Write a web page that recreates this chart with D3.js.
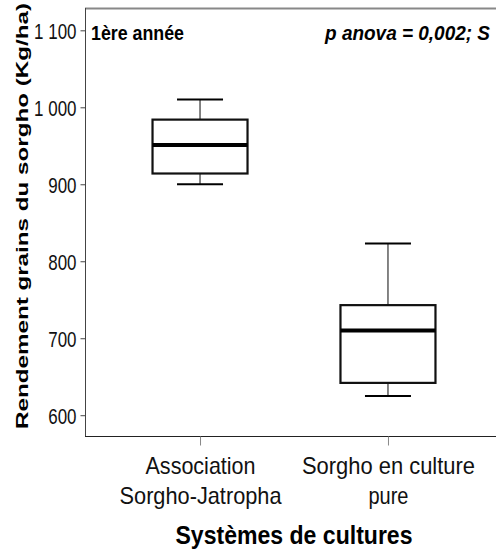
<!DOCTYPE html>
<html><head><meta charset="utf-8">
<script src="https://cdn.jsdelivr.net/npm/d3@7"></script>
<style>body{margin:0;background:#fff}svg{display:block}</style>
</head><body>
<script>
const categories = ["Association|Sorgho-Jatropha", "Sorgho en culture|pure"];
const whiskerLow = [900, 625];
const q1 = [914, 642];
const median = [951, 710];
const q3 = [984, 743];
const whiskerHigh = [1010, 823];
const yTicks = [600, 700, 800, 900, 1000, 1100];

const W = 496, H = 550;
const svg = d3.select("body").append("svg").attr("width", W).attr("height", H);
const font = "'Liberation Sans',Arial,sans-serif";

function squeeze(sel, factor) {
  sel.each(function() {
    const n = this.getComputedTextLength();
    d3.select(this).attr("textLength", n * factor).attr("lengthAdjust", "spacingAndGlyphs");
  });
}
function fit(sel, len) {
  sel.attr("textLength", len).attr("lengthAdjust", "spacingAndGlyphs");
}

const x = d3.scalePoint().domain(categories).range([85, 503]).padding(0.612);
const y = d3.scaleLinear().domain([573, 1129]).range([436, 8]);

const fmt = d => d >= 1000 ? d3.format(",")(d).replace(",", " ") : String(d);

// top border
svg.append("line").attr("x1", 85).attr("x2", W).attr("y1", 8.5).attr("y2", 8.5)
  .attr("stroke", "#888").attr("stroke-width", 2);

// y axis
const ya = svg.append("g").attr("transform", "translate(85.5,0)")
  .call(d3.axisLeft(y).tickValues(yTicks).tickSize(5).tickFormat(fmt));
ya.select(".domain").attr("stroke", "#444").attr("d", `M0,${y.range()[1]}V${y.range()[0]}`);
ya.selectAll(".tick line").attr("stroke", "#444");
const tt = ya.selectAll(".tick text").attr("font-family", font).attr("font-size", 22)
  .attr("fill", "#111").attr("x", -9).attr("dy", "0.36em");
squeeze(tt, 0.77);

// x axis
const xa = svg.append("g").attr("transform", "translate(0,436.5)")
  .call(d3.axisBottom(x).tickSize(9).tickFormat(""));
xa.select(".domain").attr("stroke", "#222").attr("d", `M85,0H${W}`);
xa.selectAll(".tick line").attr("stroke", "#888");
const labelWidths = {"Association": 110, "Sorgho-Jatropha": 162, "Sorgho en culture": 173, "pure": 40};
xa.selectAll(".tick").each(function(d) {
  const parts = d.split("|");
  const t = d3.select(this).append("text").attr("font-family", font)
    .attr("font-size", 24).attr("fill", "#111").attr("text-anchor", "middle");
  parts.forEach((p, i) => {
    const s = t.append("tspan").attr("x", 0).attr("y", 37 + i * 30).text(p);
    fit(s, labelWidths[p]);
  });
});

// boxes
const boxW = 95, capW = 46;
const data = categories.map((c, i) => ({c, lo: whiskerLow[i], q1: q1[i], med: median[i], q3: q3[i], hi: whiskerHigh[i]}));
const g = svg.append("g").selectAll("g").data(data).join("g");
g.append("line").attr("x1", d => x(d.c)).attr("x2", d => x(d.c))
  .attr("y1", d => y(d.hi)).attr("y2", d => y(d.q3)).attr("stroke", "#333").attr("stroke-width", 1.2);
g.append("line").attr("x1", d => x(d.c)).attr("x2", d => x(d.c))
  .attr("y1", d => y(d.q1)).attr("y2", d => y(d.lo)).attr("stroke", "#333").attr("stroke-width", 1.2);
g.append("line").attr("x1", d => x(d.c) - capW / 2).attr("x2", d => x(d.c) + capW / 2)
  .attr("y1", d => y(d.hi)).attr("y2", d => y(d.hi)).attr("stroke", "#000").attr("stroke-width", 2);
g.append("line").attr("x1", d => x(d.c) - capW / 2).attr("x2", d => x(d.c) + capW / 2)
  .attr("y1", d => y(d.lo)).attr("y2", d => y(d.lo)).attr("stroke", "#000").attr("stroke-width", 2);
g.append("rect").attr("x", d => x(d.c) - boxW / 2).attr("width", boxW)
  .attr("y", d => y(d.q3)).attr("height", d => y(d.q1) - y(d.q3))
  .attr("fill", "#fff").attr("stroke", "#111").attr("stroke-width", 2.2);
g.append("line").attr("x1", d => x(d.c) - boxW / 2).attr("x2", d => x(d.c) + boxW / 2)
  .attr("y1", d => y(d.med)).attr("y2", d => y(d.med)).attr("stroke", "#000").attr("stroke-width", 4);

// annotations
const a1 = svg.append("text").attr("x", 91).attr("y", 40).attr("font-family", font).attr("font-weight", "bold")
  .attr("font-size", 21).attr("fill", "#000").text("1ère année");
fit(a1, 93);
const a2g = svg.append("g");
const a2 = a2g.append("text").attr("x", 0).attr("y", 0).attr("text-anchor", "end").attr("font-family", font)
  .attr("font-weight", "bold").attr("font-style", "italic").attr("font-size", 20).attr("fill", "#000")
  .text("p anova = 0,002; S");
const natural = a2.node().getComputedTextLength();
a2g.attr("transform", `translate(490,40) scale(${165 / natural},1)`);

// axis titles
const yt = svg.append("text").attr("transform", "translate(28,216) rotate(-90)").attr("text-anchor", "middle")
  .attr("font-family", font).attr("font-weight", "bold")
  .attr("font-size", 17).attr("fill", "#000").text("Rendement grains du sorgho (Kg/ha)");
fit(yt, 426);
const xt = svg.append("text").attr("x", 294).attr("y", 544).attr("text-anchor", "middle")
  .attr("font-family", font).attr("font-weight", "bold").attr("font-size", 25).attr("fill", "#000")
  .text("Systèmes de cultures");
fit(xt, 237);
</script>
</body></html>
